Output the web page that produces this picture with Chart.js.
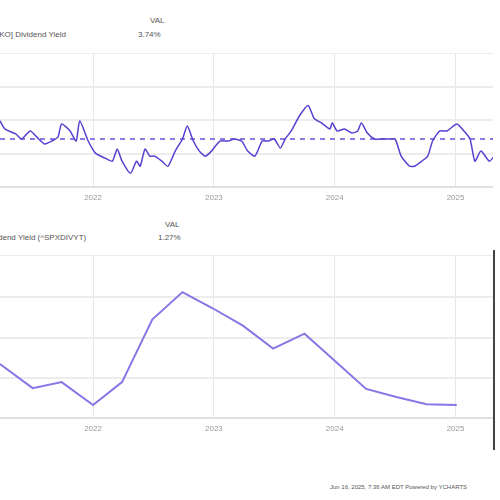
<!DOCTYPE html>
<html><head><meta charset="utf-8">
<script src="https://cdn.jsdelivr.net/npm/chart.js@4"></script>
<style>
body{margin:0;width:500px;height:500px;background:#fff;position:relative;overflow:hidden;font-family:"Liberation Sans",Arial,sans-serif;}
.t{position:absolute;font-size:8px;color:#555;white-space:nowrap;}
.box{position:absolute;left:0;width:493px;}
</style></head><body>
<div class="t" style="left:-3px;top:30px">[KO] Dividend Yield</div>
<div class="t" style="left:150px;top:16px">VAL</div>
<div class="t" style="left:138px;top:30px">3.74%</div>
<div class="t" style="left:-2px;top:233px">dend Yield (^SPXDIVYT)</div>
<div class="t" style="left:165px;top:220px">VAL</div>
<div class="t" style="left:158px;top:233px">1.27%</div>
<div class="t" style="left:330px;top:484px;font-size:6px">Jun 16, 2025, 7:36 AM EDT Powered by YCHARTS</div>
<div class="box" style="top:53px;height:156px"><canvas id="c1"></canvas></div>
<div class="box" style="top:255px;height:185px"><canvas id="c2"></canvas></div>
<div style="position:absolute;left:493px;top:250px;width:2px;height:200px;background:#444"></div>
<script>
const yearTicks = [2022, 2023, 2024, 2025];
const koDates = [2021.23,2021.27,2021.36,2021.41,2021.48,2021.55,2021.60,2021.66,2021.71,2021.74,2021.81,2021.86,2021.89,2021.96,2022.02,2022.10,2022.16,2022.20,2022.24,2022.31,2022.36,2022.39,2022.43,2022.47,2022.51,2022.57,2022.62,2022.68,2022.74,2022.78,2022.83,2022.88,2022.93,2022.98,2023.05,2023.12,2023.17,2023.23,2023.28,2023.34,2023.40,2023.45,2023.50,2023.55,2023.59,2023.64,2023.71,2023.78,2023.83,2023.89,2023.96,2023.98,2024.02,2024.08,2024.14,2024.19,2024.22,2024.27,2024.33,2024.39,2024.45,2024.50,2024.55,2024.62,2024.66,2024.72,2024.77,2024.81,2024.87,2024.93,2025.01,2025.07,2025.12,2025.16,2025.21,2025.28,2025.32];
const koYield = [1.98,1.74,1.59,1.44,1.68,1.44,1.29,1.38,1.50,1.89,1.68,1.38,1.98,1.38,1.02,0.87,0.78,1.14,0.78,0.42,0.78,0.63,1.14,0.93,0.93,0.78,0.63,1.08,1.44,1.83,1.38,1.08,0.93,1.08,1.38,1.38,1.44,1.38,1.08,0.93,1.38,1.38,1.44,1.17,1.44,1.68,2.14,2.44,2.05,1.92,1.74,1.92,1.68,1.74,1.62,1.68,1.92,1.62,1.44,1.44,1.44,1.44,0.93,0.63,0.63,0.78,0.93,1.38,1.68,1.68,1.89,1.68,1.44,0.78,1.08,0.78,0.93];
const koMean = 1.44;
const spDates = [2021.23,2021.50,2021.74,2022.00,2022.24,2022.49,2022.74,2022.99,2023.24,2023.49,2023.75,2024.00,2024.26,2024.51,2024.76,2025.01];
const spYield = [1.35,0.75,0.90,0.33,0.90,2.45,3.13,2.73,2.30,1.73,2.10,1.43,0.73,0.53,0.35,0.33];
const xMin = 2021.23, xMax = 2025.31;

function makeChart(id, datasets, yMax){
  return new Chart(document.getElementById(id), {
    type:'line',
    data:{datasets},
    options:{
      responsive:true, maintainAspectRatio:false, animation:false,
      layout:{padding:0},
      plugins:{legend:{display:false},tooltip:{enabled:false}},
      scales:{
        x:{type:'linear',min:xMin,max:xMax,
           afterBuildTicks:s=>{s.ticks=yearTicks.map(v=>({value:v}));},
           ticks:{color:'#999',font:{size:8},padding:6,callback:v=>String(v)},
           grid:{color:'#e8e8e8',drawTicks:false,lineWidth:1},
           border:{color:'#e0e0e0',width:2}},
        y:{min:0,max:yMax,ticks:{display:false,stepSize:1},
           afterFit:s=>{s.width=0;},
           grid:{color:'#ececec',drawTicks:false,lineWidth:2},
           border:{display:false}}
      }
    }
  });
}
makeChart('c1',[
  {data:koDates.map((d,i)=>({x:d,y:koYield[i]})),borderColor:'#5a3fd0',borderWidth:1.5,pointRadius:0,tension:0.2},
  {data:[{x:xMin,y:koMean},{x:xMax,y:koMean}],borderColor:'#8b7be0',borderWidth:2,borderDash:[5,5],pointRadius:0}
],4);
makeChart('c2',[
  {data:spDates.map((d,i)=>({x:d,y:spYield[i]})),borderColor:'#8a74e6',borderWidth:2,pointRadius:0,tension:0}
],4.05);
</script>
</body></html>
